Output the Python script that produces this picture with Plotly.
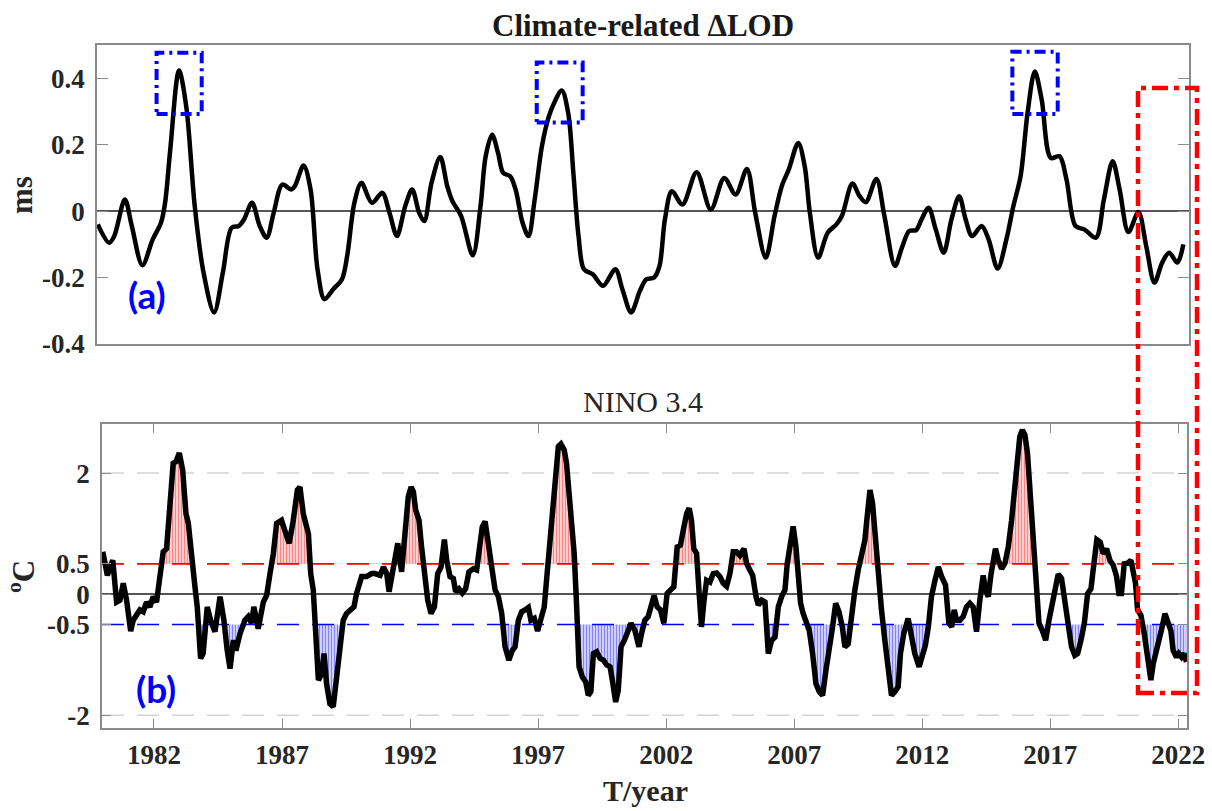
import plotly.graph_objects as go

# ---------------- data ----------------
# (a) Climate-related ΔLOD, ms
lod_year = [1980.03, 1980.47, 1980.67, 1981.08, 1981.35, 1981.76, 1982.16, 1982.48, 1982.64, 1982.84,
            1983.18, 1983.46, 1983.79, 1984.13, 1984.54, 1984.88, 1985.22, 1985.49, 1985.70, 1986.01,
            1986.31, 1986.58, 1986.85, 1987.19, 1987.53, 1987.67, 1988.01, 1988.28, 1988.55, 1988.82,
            1989.16, 1989.50, 1989.70, 1989.98, 1990.25, 1990.66, 1991.06, 1991.34, 1991.63, 1991.95,
            1992.22, 1992.49, 1992.69, 1992.97, 1993.31, 1993.58, 1993.78, 1994.12, 1994.57, 1994.87,
            1995.07, 1995.32, 1995.55, 1995.75, 1996.02, 1996.23, 1996.50, 1996.73, 1996.97, 1997.25,
            1997.52, 1997.72, 1998.02, 1998.27, 1998.47, 1998.67, 1998.88, 1999.22, 1999.62, 2000.10,
            2000.37, 2000.71, 2001.05, 2001.30, 2001.60, 2001.81, 2002.02, 2002.29, 2002.70, 2003.25,
            2003.80, 2004.32, 2004.76, 2005.20, 2005.52, 2005.93, 2006.27, 2006.55, 2006.82, 2007.19,
            2007.44, 2007.64, 2007.96, 2008.33, 2008.67, 2008.88, 2009.29, 2009.57, 2009.81, 2010.22,
            2010.53, 2010.94, 2011.21, 2011.49, 2011.76, 2011.97, 2012.24, 2012.52, 2012.83, 2013.13,
            2013.43, 2013.68, 2013.93, 2014.30, 2014.57, 2014.92, 2015.26, 2015.53, 2015.81, 2016.08,
            2016.36, 2016.63, 2016.98, 2017.32, 2017.59, 2017.94, 2018.28, 2018.73, 2019.04, 2019.38,
            2019.65, 2019.99, 2020.38, 2020.68, 2021.00, 2021.30, 2021.57, 2021.89, 2022.12]
lod_ms = [-0.040, -0.095, -0.075, 0.035, -0.045, -0.163, -0.085, -0.035, 0.025, 0.185,
          0.423, 0.315, 0.015, -0.185, -0.305, -0.185, -0.050, -0.045, -0.025, 0.025,
          -0.045, -0.080, -0.005, 0.080, 0.065, 0.075, 0.137, 0.065, -0.175, -0.265,
          -0.235, -0.205, -0.135, 0.025, 0.085, 0.025, 0.055, -0.005, -0.075, 0.015,
          0.065, -0.005, -0.030, 0.085, 0.163, 0.075, 0.030, -0.015, -0.133, 0.015,
          0.165, 0.230, 0.175, 0.115, 0.105, 0.065, -0.035, -0.075, 0.035, 0.195,
          0.285, 0.325, 0.363, 0.295, 0.115, -0.075, -0.175, -0.190, -0.225, -0.175,
          -0.235, -0.305, -0.240, -0.205, -0.200, -0.165, -0.025, 0.060, 0.020, 0.117,
          0.005, 0.100, 0.050, 0.127, -0.005, -0.140, -0.015, 0.075, 0.125, 0.205,
          0.135, -0.005, -0.140, -0.065, -0.040, -0.015, 0.083, 0.045, 0.027, 0.097,
          -0.015, -0.165, -0.110, -0.060, -0.057, -0.025, 0.010, -0.055, -0.125, -0.025,
          0.045, -0.025, -0.075, -0.045, -0.085, -0.173, -0.085, 0.015, 0.105, 0.295,
          0.420, 0.335, 0.160, 0.165, 0.095, -0.045, -0.055, -0.080, 0.035, 0.150,
          0.065, -0.063, -0.003, -0.105, -0.215, -0.155, -0.125, -0.155, -0.100]

# (b) NINO 3.4 index, degC
nino_year = [1980.00, 1980.09, 1980.18, 1980.39, 1980.54, 1980.67, 1980.80, 1980.93, 1981.09, 1981.19,
             1981.32, 1981.45, 1981.58, 1981.71, 1981.84, 1981.97, 1982.10, 1982.23, 1982.36, 1982.49,
             1982.62, 1982.75, 1982.86, 1982.99, 1983.12, 1983.25, 1983.34, 1983.47, 1983.60, 1983.69,
             1983.82, 1983.92, 1984.08, 1984.21, 1984.38, 1984.58, 1984.73, 1984.86, 1984.97, 1985.10,
             1985.20, 1985.36, 1985.55, 1985.68, 1985.81, 1985.90, 1986.07, 1986.27, 1986.40, 1986.53,
             1986.66, 1986.79, 1986.98, 1987.15, 1987.28, 1987.44, 1987.60, 1987.70, 1987.83, 1988.03,
             1988.12, 1988.22, 1988.33, 1988.42, 1988.55, 1988.64, 1988.74, 1988.87, 1989.00, 1989.13,
             1989.26, 1989.39, 1989.52, 1989.65, 1989.81, 1989.91, 1990.11, 1990.30, 1990.50, 1990.63,
             1990.83, 1990.96, 1991.09, 1991.18, 1991.31, 1991.41, 1991.52, 1991.67, 1991.80, 1991.93,
             1992.04, 1992.13, 1992.22, 1992.35, 1992.45, 1992.58, 1992.69, 1992.82, 1992.95, 1993.08,
             1993.21, 1993.34, 1993.43, 1993.56, 1993.69, 1993.78, 1993.91, 1994.04, 1994.17, 1994.30,
             1994.47, 1994.60, 1994.73, 1994.82, 1994.93, 1995.06, 1995.19, 1995.32, 1995.45, 1995.58,
             1995.71, 1995.86, 1995.99, 1996.10, 1996.23, 1996.36, 1996.49, 1996.62, 1996.72, 1996.85,
             1996.98, 1997.14, 1997.24, 1997.33, 1997.42, 1997.53, 1997.66, 1997.79, 1997.89, 1998.02,
             1998.11, 1998.21, 1998.31, 1998.41, 1998.50, 1998.60, 1998.73, 1998.86, 1998.96, 1999.06,
             1999.16, 1999.29, 1999.42, 1999.55, 1999.68, 1999.81, 1999.90, 2000.03, 2000.13, 2000.24,
             2000.37, 2000.50, 2000.63, 2000.78, 2000.94, 2001.04, 2001.17, 2001.30, 2001.43, 2001.53,
             2001.65, 2001.78, 2001.91, 2002.04, 2002.17, 2002.30, 2002.43, 2002.56, 2002.67, 2002.80,
             2002.90, 2002.99, 2003.08, 2003.19, 2003.29, 2003.38, 2003.48, 2003.58, 2003.71, 2003.84,
             2003.97, 2004.10, 2004.23, 2004.36, 2004.49, 2004.62, 2004.75, 2004.88, 2005.04, 2005.14,
             2005.27, 2005.38, 2005.51, 2005.60, 2005.73, 2005.86, 2005.99, 2006.12, 2006.25, 2006.38,
             2006.51, 2006.64, 2006.73, 2006.83, 2006.96, 2007.07, 2007.16, 2007.25, 2007.35, 2007.46,
             2007.59, 2007.72, 2007.85, 2007.98, 2008.11, 2008.24, 2008.37, 2008.50, 2008.62, 2008.75,
             2008.88, 2008.98, 2009.11, 2009.24, 2009.37, 2009.50, 2009.63, 2009.76, 2009.85, 2009.96,
             2010.06, 2010.15, 2010.28, 2010.41, 2010.54, 2010.67, 2010.80, 2010.93, 2011.06, 2011.15,
             2011.28, 2011.45, 2011.58, 2011.71, 2011.88, 2012.00, 2012.12, 2012.24, 2012.36, 2012.50,
             2012.63, 2012.76, 2012.91, 2013.04, 2013.15, 2013.25, 2013.34, 2013.47, 2013.60, 2013.73,
             2013.86, 2013.99, 2014.12, 2014.25, 2014.38, 2014.47, 2014.58, 2014.68, 2014.77, 2014.86,
             2014.97, 2015.10, 2015.23, 2015.36, 2015.49, 2015.62, 2015.72, 2015.81, 2015.91, 2016.01,
             2016.11, 2016.20, 2016.30, 2016.37, 2016.47, 2016.56, 2016.69, 2016.82, 2016.95, 2017.08,
             2017.21, 2017.31, 2017.44, 2017.57, 2017.70, 2017.83, 2017.96, 2018.07, 2018.20, 2018.33,
             2018.46, 2018.59, 2018.72, 2018.82, 2018.95, 2019.07, 2019.20, 2019.33, 2019.46, 2019.59,
             2019.68, 2019.78, 2019.89, 2020.02, 2020.15, 2020.24, 2020.33, 2020.41, 2020.54, 2020.67,
             2020.80, 2020.93, 2021.02, 2021.15, 2021.28, 2021.37, 2021.48, 2021.58, 2021.71, 2021.80,
             2021.93, 2022.02, 2022.13, 2022.23, 2022.32]
nino_c = [0.70, 0.45, 0.31, 0.56, -0.13, -0.10, 0.18, -0.10, -0.61, -0.43,
          -0.32, -0.26, -0.29, -0.13, -0.21, -0.04, -0.13, 0.23, 0.70, 0.75,
          1.50, 2.16, 2.19, 2.33, 2.05, 1.33, 1.17, 0.56, 0.12, -0.21,
          -1.06, -0.98, -0.21, -0.43, -0.62, -0.04, -0.43, -0.93, -1.23, -0.76,
          -0.93, -0.65, -0.43, -0.37, -0.48, -0.21, -0.57, -0.13, -0.02, 0.34,
          0.67, 1.17, 1.22, 1.00, 0.84, 1.22, 1.72, 1.77, 1.33, 1.00,
          0.34, 0.07, -0.71, -1.42, -1.31, -0.98, -1.48, -1.81, -1.86, -1.42,
          -0.93, -0.43, -0.32, -0.26, -0.21, 0.01, 0.29, 0.29, 0.34, 0.34,
          0.31, 0.45, 0.34, 0.04, 0.34, 0.51, 0.84, 0.37, 1.00, 1.61,
          1.77, 1.69, 1.39, 1.22, 0.78, 0.29, -0.10, -0.32, -0.21, 0.34,
          0.45, 0.90, 0.56, 0.29, 0.26, 0.04, 0.09, 0.02, 0.09, 0.37,
          0.42, 0.40, 0.78, 1.11, 1.20, 0.84, 0.51, 0.07, -0.04, -0.32,
          -0.87, -1.09, -0.93, -0.87, -0.43, -0.29, -0.26, -0.22, -0.43, -0.40,
          -0.61, -0.32, -0.21, 0.23, 0.67, 1.28, 1.83, 2.44, 2.48, 2.38,
          2.16, 1.61, 0.95, 0.67, -0.15, -1.20, -1.37, -1.45, -1.67, -1.61,
          -0.98, -0.95, -1.06, -1.09, -1.17, -1.20, -1.42, -1.78, -1.59, -0.87,
          -0.76, -0.60, -0.48, -0.60, -0.87, -0.65, -0.43, -0.37, -0.13, -0.02,
          -0.21, -0.26, -0.48, 0.01, 0.07, 0.12, 0.78, 0.81, 1.06, 1.33,
          1.42, 1.22, 0.75, 0.67, 0.01, -0.54, -0.10, 0.23, 0.20, 0.34,
          0.35, 0.29, 0.18, 0.13, 0.34, 0.70, 0.70, 0.64, 0.75, 0.51,
          0.40, 0.31, -0.04, -0.18, -0.10, -0.13, -0.98, -0.76, -0.71, -0.21,
          -0.04, 0.07, 0.51, 0.73, 1.12, 0.78, 0.34, -0.15, -0.32, -0.43,
          -0.60, -0.98, -1.48, -1.61, -1.67, -1.26, -0.93, -0.54, -0.15, -0.29,
          -0.54, -0.87, -0.82, -0.32, 0.07, 0.40, 0.62, 0.89, 1.28, 1.72,
          1.50, 1.00, 0.40, -0.26, -0.76, -1.31, -1.67, -1.61, -1.53, -0.98,
          -0.65, -0.40, -0.65, -0.98, -1.20, -1.05, -0.85, -0.54, -0.04, 0.23,
          0.45, 0.29, 0.15, -0.48, -0.54, -0.26, -0.43, -0.43, -0.37, -0.21,
          -0.15, -0.21, -0.62, -0.10, 0.31, 0.07, -0.04, 0.31, 0.51, 0.75,
          0.56, 0.42, 0.51, 0.78, 1.22, 1.88, 2.21, 2.60, 2.71, 2.63,
          2.33, 1.77, 1.06, 0.51, -0.15, -0.48, -0.60, -0.76, -0.43, -0.15,
          0.12, 0.33, 0.26, -0.10, -0.48, -0.87, -1.01, -0.98, -0.76, -0.48,
          0.01, 0.09, 0.56, 0.90, 0.86, 0.67, 0.75, 0.56, 0.48, 0.29,
          0.01, 0.01, 0.50, 0.51, 0.56, 0.34, 0.18, -0.26, -0.35, -0.65,
          -1.04, -1.42, -1.15, -0.93, -0.76, -0.54, -0.32, -0.43, -0.60, -0.93,
          -1.04, -0.98, -1.04, -0.98, -1.12]

# axis ticks / thresholds
lod_ticks = [-0.4, -0.2, 0, 0.2, 0.4]
lod_ticktext = ["-0.4", "-0.2", "0", "0.2", "0.4"]
nino_ticks = [-2, -0.5, 0, 0.5, 2]
nino_ticktext = ["-2", "-0.5", "0", "0.5", "2"]
year_ticks = [1982, 1987, 1992, 1997, 2002, 2007, 2012, 2017, 2022]
WARM, COLD = 0.5, -0.5

# ---------------- layout helpers ----------------
W, H = 1212, 811
def px(x):
    return x / W
def py(y):
    return 1 - y / H

X_RANGE_TOP = [1980.0, 2022.34]
X_RANGE_BOT = [1979.97, 2022.34]
SERIF = "Liberation Serif"
AXIS_GRAY = "#8a8a8a"
TEXT = "#262626"


def clipped(xs, ys, thr, above):
    """curve clipped at a threshold, with exact crossing points (for the hatched fill)."""
    ox, oy = [], []
    for i in range(len(xs)):
        if i > 0:
            y0, y1 = ys[i - 1], ys[i]
            if (y0 - thr) * (y1 - thr) < 0:
                t = (thr - y0) / (y1 - y0)
                ox.append(xs[i - 1] + t * (xs[i] - xs[i - 1]))
                oy.append(thr)
        ox.append(xs[i])
        oy.append(max(ys[i], thr) if above else min(ys[i], thr))
    return ox, oy


fig = go.Figure()

# ---- panel (a) ----
fig.add_trace(go.Scatter(x=lod_year, y=lod_ms, mode="lines", xaxis="x", yaxis="y",
                         line=dict(color="black", width=4.5, shape="spline", smoothing=0.9),
                         hoverinfo="skip"))

# ---- panel (b) hatched fills ----
for thr, above, fg, bg in [(WARM, True, "rgba(255,80,80,0.6)", "#ffcfcf"),
                           (COLD, False, "rgba(80,80,255,0.6)", "#cfcfff")]:
    fx, fy = clipped(nino_year, nino_c, thr, above)
    fig.add_trace(go.Scatter(x=fx, y=[thr] * len(fx), mode="lines", xaxis="x2", yaxis="y2",
                             line=dict(width=0), hoverinfo="skip"))
    fig.add_trace(go.Scatter(x=fx, y=fy, mode="lines", xaxis="x2", yaxis="y2",
                             line=dict(width=0), fill="tonexty", fillcolor=bg,
                             fillpattern=dict(shape="|", fgcolor=fg, bgcolor=bg, size=3, solidity=0.35),
                             hoverinfo="skip"))

# threshold lines
fig.add_trace(go.Scatter(x=X_RANGE_BOT, y=[WARM, WARM], mode="lines", xaxis="x2", yaxis="y2",
                         line=dict(color="#ff0000", width=1.6, dash="22px,13px"), hoverinfo="skip"))
fig.add_trace(go.Scatter(x=X_RANGE_BOT, y=[COLD, COLD], mode="lines", xaxis="x2", yaxis="y2",
                         line=dict(color="#0000ff", width=1.6, dash="22px,13px"), hoverinfo="skip"))

fig.add_trace(go.Scatter(x=nino_year, y=nino_c, mode="lines", xaxis="x2", yaxis="y2",
                         line=dict(color="black", width=5.5), hoverinfo="skip"))

# ---- axes ----
common = dict(showline=True, mirror="ticks", linecolor=AXIS_GRAY, linewidth=1.5,
              showgrid=False, automargin=False, tickcolor=AXIS_GRAY,
              tickfont=dict(family=SERIF, size=27, color=TEXT, weight="bold"))

fig.update_layout(
    template="none",
    width=W, height=H,
    margin=dict(l=0, r=0, t=0, b=0),
    paper_bgcolor="white", plot_bgcolor="white",
    showlegend=False,
    xaxis=dict(domain=[px(97), px(1189)], range=X_RANGE_TOP, anchor="y",
               showticklabels=False, ticks="", zeroline=False,
               **{k: v for k, v in common.items() if k not in ("tickfont",)}),
    yaxis=dict(domain=[py(344), py(45)], range=[-0.4, 0.5], anchor="x",
               tickvals=lod_ticks, ticktext=lod_ticktext, ticks="inside", ticklen=11,
               ticklabelstandoff=5,
               zeroline=True, zerolinecolor="#555555", zerolinewidth=1.5, **common),
    xaxis2=dict(domain=[px(102), px(1187)], range=X_RANGE_BOT, anchor="y2",
                tickvals=year_ticks, ticks="inside", ticklen=9, ticklabelstandoff=2,
                zeroline=False, **common),
    yaxis2=dict(domain=[py(728), py(424)], range=[-2.21, 2.81], anchor="x2",
                tickvals=nino_ticks, ticktext=nino_ticktext, ticks="inside", ticklen=9,
                ticklabelstandoff=5,
                zeroline=True, zerolinecolor="#555555", zerolinewidth=1.5, **common),
)

# ---- shapes ----
shapes = []
for yv in (2, -2):
    shapes.append(dict(type="line", xref="x2 domain", x0=0, x1=1, yref="y2", y0=yv, y1=yv,
                       line=dict(color="#d4d4d4", width=1.6, dash="22px,13px"), layer="below"))
# highlight boxes around the ΔLOD peaks (panel a)
for x0, x1, y0, y1 in [(1982.31, 1984.06, 0.292, 0.477),
                       (1997.05, 1998.83, 0.267, 0.447),
                       (2015.49, 2017.25, 0.292, 0.480)]:
    shapes.append(dict(type="rect", xref="x", yref="y", x0=x0, x1=x1, y0=y0, y1=y1,
                       line=dict(color="#0000ff", width=4, dash="11px,5px,3px,5px")))
# red box spanning both panels
shapes.append(dict(type="rect", xref="paper", yref="paper",
                   x0=px(1138), x1=px(1197), y0=py(693), y1=py(88),
                   line=dict(color="#ff0000", width=4.5, dash="16px,6px,5px,6px")))
fig.update_layout(shapes=shapes)

# ---- text ----
def ann(text, x, y, size, bold=True, color=TEXT, family=SERIF, angle=0):
    fig.add_annotation(text=text, x=px(x), y=py(y), xref="paper", yref="paper",
                       showarrow=False, xanchor="center", yanchor="middle", textangle=angle,
                       font=dict(family=family, size=size, color=color,
                                 weight="bold" if bold else "normal"))

ann("Climate-related ΔLOD", 643, 25, 31, color="#1a1a1a")
ann("NINO 3.4", 643, 401, 30, bold=False)
ann("ms", 21, 195, 31, angle=-90)
ann("<sup>o</sup>C", 21, 577, 31, angle=-90)
ann("T/year", 645, 790, 30)
ann("(a)", 147, 295, 37, color="#0000ff", family="Lato")
ann("(b)", 156, 688, 37, color="#0000ff", family="Lato")

fig.write_html("out.html")
